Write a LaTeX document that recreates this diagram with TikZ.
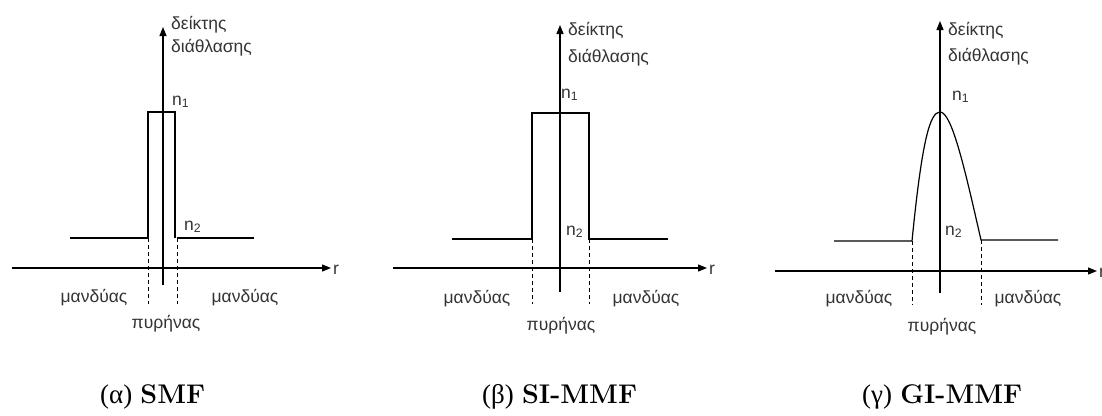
\documentclass[tikz,border=0pt]{standalone}
\usepackage{fontspec}
\newfontfamily\lab{Liberation Sans}
\newfontfamily\grk{Liberation Serif}
\usetikzlibrary{arrows.meta}
\begin{document}
\begin{tikzpicture}[x=1pt,y=-1pt,
  ln/.style={line width=1.2pt,black},
  axis/.style={line width=1.2pt,black,-{Triangle[length=9pt,width=7pt]}},
  dsh/.style={line width=1pt,black,dash pattern=on 4pt off 3pt},
  txt/.style={inner sep=0pt,anchor=base west,font=\lab\fontsize{17.5}{20}\selectfont,text=black!80},
  ctxt/.style={inner sep=0pt,anchor=base,font=\lab\fontsize{17.5}{20}\selectfont,text=black!80},
  captxt/.style={inner sep=0pt,anchor=base west,font=\fontsize{27}{30}\selectfont}]
\useasboundingbox (0,0) rectangle (1102,415);

% ---------- Panel alpha ----------
\coordinate (a-yb) at (163,285); \coordinate (a-yt) at (163,27);
\coordinate (a-xl) at (12,268);  \coordinate (a-xr) at (331,268);
\draw[axis] (a-yb) -- (a-yt);
\draw[axis] (a-xl) -- (a-xr);
\node[txt,anchor=west] (a-r) at (333,270) {r};
\coordinate (a-l0) at (70,238); \coordinate (a-l1) at (148,238);
\coordinate (a-t0) at (148,112); \coordinate (a-t1) at (175,112);
\coordinate (a-r1) at (175,238); \coordinate (a-r0) at (177,238); \coordinate (a-r2) at (254,238);
\draw[ln] (a-l0) -- (a-l1) -- (a-t0) -- (a-t1) -- (a-r1);
\draw[ln] (a-r0) -- (a-r2);
\coordinate (a-d0) at (148,304); \coordinate (a-d1) at (177,304);
\draw[dsh] (a-l1) -- (a-d0);
\draw[dsh] (a-r0) -- (a-d1);
\node[txt] (a-y1) at (171,29) {δείκτης};
\node[txt] (a-y2) at (171,52) {διάθλασης};
\node[txt] (a-n1) at (172,105) {n\textsubscript{1}};
\node[txt] (a-n2) at (184,230) {n\textsubscript{2}};
\node[ctxt] (a-m1) at (94,302) {μανδύας};
\node[ctxt] (a-m2) at (245,302) {μανδύας};
\node[ctxt] (a-p) at (166,328) {πυρήνας};
\node[captxt] (a-cap) at (100,403) {{\grk (α)} \textbf{SMF}};

% ---------- Panel beta ----------
\coordinate (b-yb) at (560,292); \coordinate (b-yt) at (560,25);
\coordinate (b-xl) at (393,268); \coordinate (b-xr) at (707,268);
\draw[axis] (b-yb) -- (b-yt);
\draw[axis] (b-xl) -- (b-xr);
\node[txt,anchor=west] (b-r) at (709,270) {r};
\coordinate (b-l0) at (452,239); \coordinate (b-l1) at (532,239);
\coordinate (b-t0) at (532,113); \coordinate (b-t1) at (589,113);
\coordinate (b-r1) at (589,239); \coordinate (b-r2) at (668,239);
\draw[ln] (b-l0) -- (b-l1) -- (b-t0) -- (b-t1) -- (b-r1) -- (b-r2);
\coordinate (b-d0) at (532,304); \coordinate (b-d1) at (589,304);
\draw[dsh] (b-l1) -- (b-d0);
\draw[dsh] (b-r1) -- (b-d1);
\node[txt] (b-y1) at (568,35) {δείκτης};
\node[txt] (b-y2) at (568,62) {διάθλασης};
\node[txt] (b-n1) at (561,98) {n\textsubscript{1}};
\node[txt] (b-n2) at (566,235) {n\textsubscript{2}};
\node[ctxt] (b-m1) at (477,303) {μανδύας};
\node[ctxt] (b-m2) at (646,303) {μανδύας};
\node[ctxt] (b-p) at (561,330) {πυρήνας};
\node[captxt] (b-cap) at (482,403) {{\grk (β)} \textbf{SI-MMF}};

% ---------- Panel gamma ----------
\coordinate (c-yb) at (940,293); \coordinate (c-yt) at (940,21);
\coordinate (c-xl) at (775,271); \coordinate (c-xr) at (1097,271);
\draw[axis] (c-yb) -- (c-yt);
\draw[axis] (c-xl) -- (c-xr);
\node[txt,anchor=west] (c-r) at (1099,273) {r};
\coordinate (c-l0) at (834,241); \coordinate (c-l1) at (912,241);
\coordinate (c-pk) at (940,112);
\coordinate (c-r1) at (981,240); \coordinate (c-r2) at (1058,240);
\draw[ln] (c-l0) -- (c-l1) .. controls (922,140) and (930,112) .. (c-pk)
  .. controls (952,112) and (965,170) .. (c-r1) -- (c-r2);
\coordinate (c-d0) at (912,305); \coordinate (c-d1) at (981,305);
\draw[dsh] (c-l1) -- (c-d0);
\draw[dsh] (c-r1) -- (c-d1);
\node[txt] (c-y1) at (948,35) {δείκτης};
\node[txt] (c-y2) at (948,61) {διάθλασης};
\node[txt] (c-n1) at (952,100) {n\textsubscript{1}};
\node[txt] (c-n2) at (945,235) {n\textsubscript{2}};
\node[ctxt] (c-m1) at (859,303) {μανδύας};
\node[ctxt] (c-m2) at (1028,303) {μανδύας};
\node[ctxt] (c-p) at (942,331) {πυρήνας};
\node[captxt] (c-cap) at (862,403) {{\grk (γ)} \textbf{GI-MMF}};
\end{tikzpicture}
\end{document}
